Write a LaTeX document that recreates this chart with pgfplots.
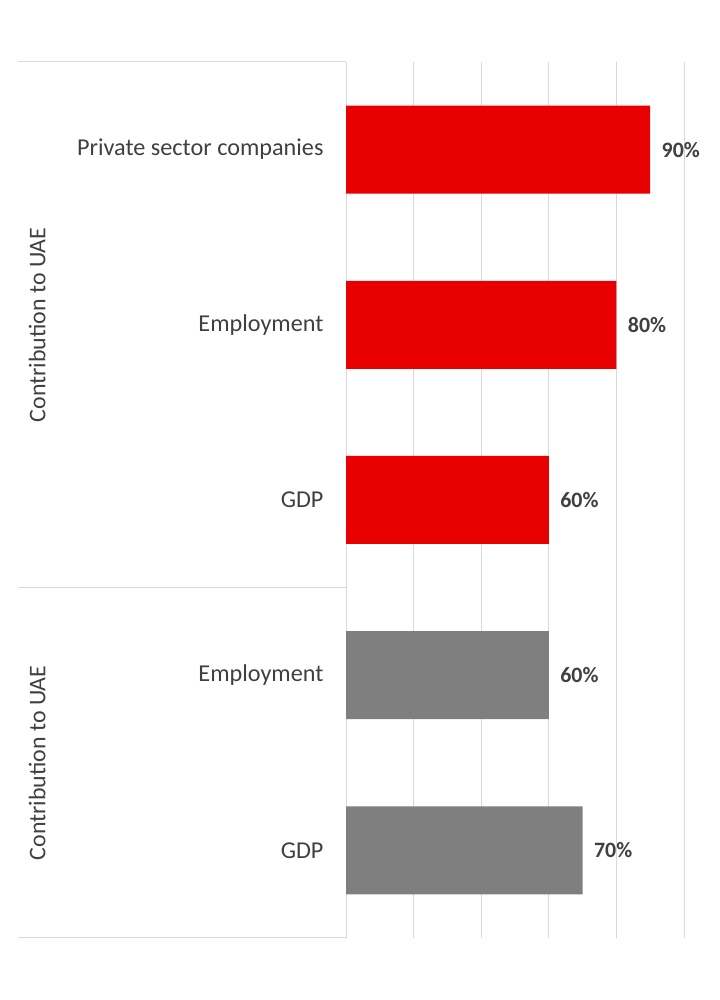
\documentclass[border=0pt]{standalone}
\usepackage{pgfplots}
\pgfplotsset{compat=1.18}
\usepackage{fontspec}
\setmainfont{Carlito}
\definecolor{barred}{RGB}{232,0,0}
\definecolor{bargray}{RGB}{127,127,127}
\definecolor{gridgray}{RGB}{217,217,217}
\definecolor{txtgray}{RGB}{64,64,64}
\begin{document}
\begin{tikzpicture}[x=1bp,y=1bp]
\useasboundingbox (0,0) rectangle (720,1000);
\begin{axis}[
  at={(346bp,62bp)}, anchor=south west,
  scale only axis, width=338bp, height=876bp,
  xmin=0, xmax=100, ymin=-0.5, ymax=4.5,
  xbar, bar width=88bp, bar shift=0pt,
  xtick={0,20,40,60,80,100}, xticklabels={},
  xmajorgrids, grid style={gridgray, line width=1bp},
  ytick={0,1,2,3,4},
  yticklabels={GDP,Employment,GDP,Employment,Private sector companies},
  yticklabel style={font=\fontsize{24.3}{28}\selectfont, text=txtgray, xshift=-19bp},
  major tick length=0pt,
  axis line style={draw=none},
  clip=false,
  point meta=x,
  /pgf/number format/assume math mode=true,
  nodes near coords={\pgfmathprintnumber{\pgfplotspointmeta}\%},
  every node near coord/.append style={font=\bfseries\fontsize{22}{26}\selectfont, text=txtgray, xshift=8bp},
]
\addplot[fill=barred, draw=none] coordinates {(90,4) (80,3) (60,2)};
\addplot[fill=bargray, draw=none] coordinates {(60,1) (70,0)};
\draw[gridgray, line width=1bp] (axis cs:-97.04,4.5) -- (axis cs:0,4.5);
\draw[gridgray, line width=1bp] (axis cs:-97.04,1.5) -- (axis cs:0,1.5);
\draw[gridgray, line width=1bp] (axis cs:-97.04,-0.5) -- (axis cs:0,-0.5);
\node[rotate=90, font=\fontsize{24}{28}\selectfont, text=txtgray] at (axis cs:-91.4,3) {Contribution to UAE};
\node[rotate=90, font=\fontsize{24}{28}\selectfont, text=txtgray] at (axis cs:-91.4,0.5) {Contribution to UAE};
\end{axis}
\end{tikzpicture}
\end{document}
